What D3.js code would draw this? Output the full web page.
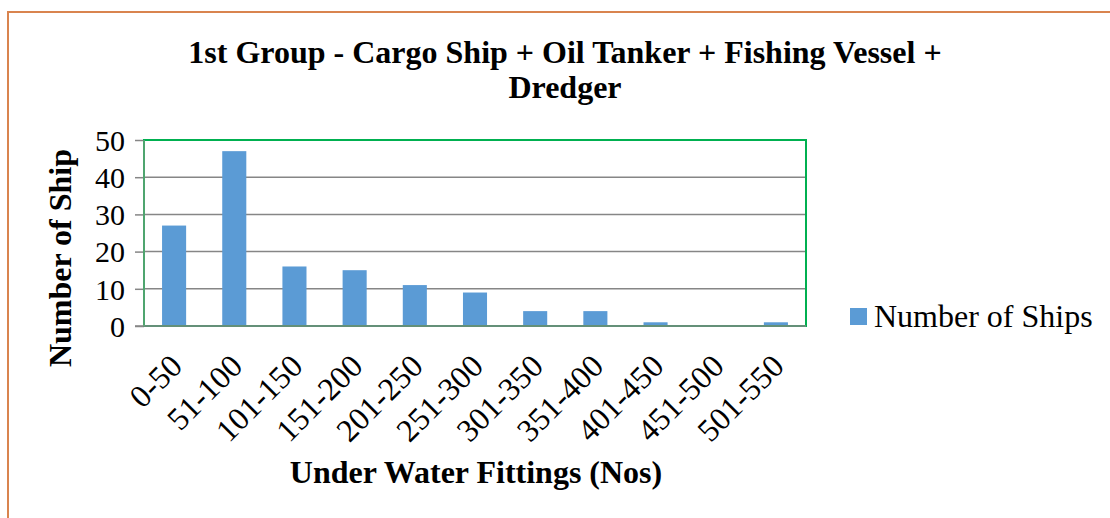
<!DOCTYPE html>
<html>
<head>
<meta charset="utf-8">
<script src="https://cdn.jsdelivr.net/npm/d3@7"></script>
<style>
  html, body { margin: 0; padding: 0; background: #fff; }
  svg { display: block; }
  text { font-family: "Liberation Serif", "Times New Roman", serif; fill: #000; }
</style>
</head>
<body>
<svg id="chart" width="1110" height="518"></svg>
<script>
const categories = ["0-50", "51-100", "101-150", "151-200", "201-250", "251-300", "301-350", "351-400", "401-450", "451-500", "501-550"];
const shipCounts = [27, 47, 16, 15, 11, 9, 4, 4, 1, 0, 1];
const yTicks = [0, 10, 20, 30, 40, 50];
const titleLines = ["1st Group - Cargo Ship + Oil Tanker + Fishing Vessel +", "Dredger"];
const seriesName = "Number of Ships";
const xTitle = "Under Water Fittings (Nos)";
const yTitle = "Number of Ship";

const svg = d3.select("#chart");

// outer chart border
svg.append("path")
  .attr("d", "M8,518 L8,12 L1110,12")
  .attr("fill", "none")
  .attr("stroke", "#D9844F")
  .attr("stroke-width", 2);

const plot = { left: 144, right: 806, top: 140, bottom: 326 };

const x = d3.scaleBand().domain(categories).range([plot.left, plot.right]).paddingInner(0.6).paddingOuter(0.3);
const y = d3.scaleLinear().domain([0, 50]).range([plot.bottom, plot.top]);

// ticks + labels
const yAxis = d3.axisLeft(y).tickValues(yTicks).tickSize(9).tickFormat(d3.format("d"));
const gy = svg.append("g").attr("transform", `translate(${plot.left},0)`).call(yAxis);
gy.attr("font-family", null);
gy.select(".domain").remove();
gy.selectAll(".tick line").attr("stroke", "#868686").attr("stroke-width", 1.5);
gy.selectAll(".tick text")
  .attr("x", -19)
  .attr("dy", "0.34em")
  .style("font-size", "30px")
  .style("font-family", "'Liberation Serif', serif")
  .attr("fill", "#000");

// gridlines
const grid = svg.append("g");
grid.selectAll("line").data(yTicks.filter(t => t > 0 && t < 50)).join("line")
  .attr("x1", plot.left).attr("x2", plot.right)
  .attr("y1", d => y(d)).attr("y2", d => y(d))
  .attr("stroke", "#868686").attr("stroke-width", 1.5);

// bars
svg.append("g").selectAll("rect").data(categories).join("rect")
  .attr("x", (d) => x(d))
  .attr("width", x.bandwidth())
  .attr("y", (d, i) => y(shipCounts[i]))
  .attr("height", (d, i) => y(0) - y(shipCounts[i]))
  .attr("fill", "#5B9BD5");

// plot border (green)
svg.append("rect")
  .attr("x", plot.left).attr("y", plot.top)
  .attr("width", plot.right - plot.left).attr("height", plot.bottom - plot.top)
  .attr("fill", "none").attr("stroke", "#00B050").attr("stroke-width", 2);

// axis lines
svg.append("line")
  .attr("x1", plot.left - 9).attr("x2", plot.right)
  .attr("y1", y(0)).attr("y2", y(0))
  .attr("stroke", "#868686").attr("stroke-width", 1.5);
svg.append("line")
  .attr("x1", plot.left).attr("x2", plot.left)
  .attr("y1", plot.top).attr("y2", plot.bottom)
  .attr("stroke", "#6aa27a").attr("stroke-width", 1.5);

// x labels
svg.append("g").selectAll("text").data(categories).join("text")
  .attr("transform", d => `translate(${x(d) + x.bandwidth() / 2 + 10},${plot.bottom + 42}) rotate(-45)`)
  .attr("text-anchor", "end")
  .style("font-size", "32px")
  .text(d => d);

// title
svg.append("text")
  .attr("text-anchor", "middle")
  .style("font-size", "32px").style("font-weight", "bold")
  .selectAll("tspan").data(titleLines).join("tspan")
  .attr("x", 565)
  .attr("y", (d, i) => 63 + i * 35)
  .text(d => d);

// axis titles
svg.append("text")
  .attr("x", 476).attr("y", 483)
  .attr("text-anchor", "middle")
  .style("font-size", "32px").style("font-weight", "bold")
  .text(xTitle);

svg.append("text")
  .attr("transform", "translate(71,258) rotate(-90)")
  .attr("text-anchor", "middle")
  .style("font-size", "32px").style("font-weight", "bold")
  .text(yTitle);

// legend
const lg = svg.append("g");
lg.append("rect").attr("x", 850).attr("y", 308).attr("width", 17).attr("height", 17).attr("fill", "#5B9BD5");
lg.append("text").attr("x", 874).attr("y", 327).style("font-size", "32px").text(seriesName);
</script>
</body>
</html>
